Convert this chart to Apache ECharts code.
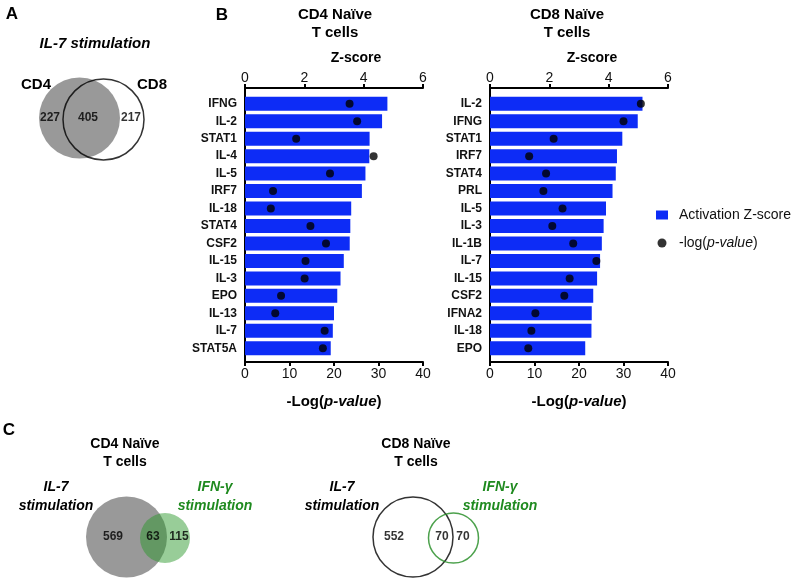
<!DOCTYPE html>
<html>
<head>
<meta charset="utf-8">
<script src="https://cdn.jsdelivr.net/npm/echarts@6/dist/echarts.min.js"></script>
<style>
  html, body { margin: 0; padding: 0; background: #fff; }
  #chart { width: 798px; height: 582px; }
</style>
</head>
<body>
<div id="chart"></div>
<script>
  // panel B data
  const cd4Genes = ['IFNG', 'IL-2', 'STAT1', 'IL-4', 'IL-5', 'IRF7', 'IL-18', 'STAT4', 'CSF2', 'IL-15', 'IL-3', 'EPO', 'IL-13', 'IL-7', 'STAT5A']
  const cd4Z = [4.80, 4.62, 4.20, 4.19, 4.06, 3.94, 3.58, 3.55, 3.53, 3.33, 3.22, 3.11, 3.00, 2.96, 2.89]
  const cd4P = [23.5, 25.2, 11.5, 28.9, 19.1, 6.3, 5.8, 14.7, 18.2, 13.6, 13.4, 8.1, 6.8, 17.9, 17.5]

  const cd8Genes = ['IL-2', 'IFNG', 'STAT1', 'IRF7', 'STAT4', 'PRL', 'IL-5', 'IL-3', 'IL-1B', 'IL-7', 'IL-15', 'CSF2', 'IFNA2', 'IL-18', 'EPO']
  const cd8Z = [5.14, 4.98, 4.46, 4.28, 4.24, 4.13, 3.91, 3.83, 3.77, 3.71, 3.61, 3.48, 3.43, 3.42, 3.21]
  const cd8P = [33.9, 30.0, 14.3, 8.8, 12.6, 12.0, 16.3, 14.0, 18.7, 23.9, 17.9, 16.7, 10.2, 9.3, 8.6]

  const zTicks = [0, 2, 4, 6]
  const pTicks = [0, 10, 20, 30, 40]

  // venn counts: [only first, overlap, only second]
  const vennACounts = [227, 405, 217]
  const vennC4Counts = [569, 63, 115]
  const vennC8Counts = [552, 70, 70]

  const BLUE = '#0d2cf6'
  const GREEN = '#1f8a1f'
  const FONT = 'Liberation Sans, Arial, sans-serif'

  let chart = echarts.init(document.getElementById('chart'))

  function frameAxes(gi, zPad){
    // visible frame axes of one bar panel
    return {
      x: [
        {
          gridIndex: gi, type: 'value', position: 'top', min: zTicks[0], max: zTicks[zTicks.length - 1], interval: 2,
          name: 'Z-score', nameLocation: 'middle', nameGap: 23,
          nameTextStyle: { fontFamily: FONT, fontWeight: 'bold', fontSize: 14, color: '#000', padding: [0, 0, 0, zPad] },
          axisLine: { onZero: false, lineStyle: { color: '#000', width: 2 } },
          axisTick: { length: 4, lineStyle: { color: '#000', width: 2 } },
          axisLabel: { fontFamily: FONT, fontSize: 14, color: '#111', margin: 3 },
          splitLine: { show: false }
        },
        {
          gridIndex: gi, type: 'value', position: 'bottom', min: pTicks[0], max: pTicks[pTicks.length - 1], interval: 10,
          name: '-Log({i|p-value})', nameLocation: 'middle', nameGap: 32,
          nameTextStyle: {
            fontFamily: FONT, fontWeight: 'bold', fontSize: 15, color: '#000',
            rich: { i: { fontFamily: FONT, fontWeight: 'bold', fontStyle: 'italic', fontSize: 15, color: '#000' } }
          },
          axisLine: { onZero: false, lineStyle: { color: '#000', width: 2 } },
          axisTick: { length: 4, lineStyle: { color: '#000', width: 2 } },
          axisLabel: { fontFamily: FONT, fontSize: 14, color: '#111', margin: 5 },
          splitLine: { show: false }
        }
      ],
      y: {
        gridIndex: gi, type: 'value', min: 0, max: 1,
        axisLine: { show: true, onZero: false, lineStyle: { color: '#000', width: 2 } },
        axisTick: { show: false }, axisLabel: { show: false }, splitLine: { show: false }
      }
    }
  }

  function seriesAxes(gi, genes){
    return {
      x: [
        { gridIndex: gi, type: 'value', min: 0, max: 6, show: false },
        { gridIndex: gi, type: 'value', min: 0, max: 40, show: false }
      ],
      y: {
        gridIndex: gi, type: 'category', data: genes, inverse: true,
        axisLine: { show: false },
        axisTick: { alignWithLabel: true, length: 5, lineStyle: { color: '#000', width: 1.5 } },
        axisLabel: { fontFamily: FONT, fontWeight: 'bold', fontSize: 12, color: '#111', margin: 8 },
        splitLine: { show: false }
      }
    }
  }

  let f4 = frameAxes(0, 44), s4 = seriesAxes(1, cd4Genes)
  let f8 = frameAxes(2, 26), s8 = seriesAxes(3, cd8Genes)

  function circle(x, y, d, fill, stroke){
    return {
      value: [x, y], symbolSize: d,
      itemStyle: { color: fill, borderColor: stroke || 'transparent', borderWidth: stroke ? 1.5 : 0 }
    }
  }
  function num(x, y, n){
    return { value: [x, y], label: { formatter: String(n) } }
  }

  const titleText = (t, x, y, extra) => ({
    type: 'text', x: x, y: y,
    style: Object.assign({ text: t, fontFamily: FONT, fontWeight: 'bold', fontSize: 15, fill: '#000', align: 'center', verticalAlign: 'middle', lineHeight: 18 }, extra || {})
  })

  chart.setOption({
    animation: false,
    grid: [
      { left: 245, width: 178, top: 88, height: 274 },
      { left: 245, width: 178, top: 95, height: 262 },
      { left: 490, width: 178, top: 88, height: 274 },
      { left: 490, width: 178, top: 95, height: 262 },
      { left: 0, top: 0, width: 798, height: 582 }
    ],
    xAxis: [
      f4.x[0], f4.x[1], s4.x[0], s4.x[1],
      f8.x[0], f8.x[1], s8.x[0], s8.x[1],
      { gridIndex: 4, type: 'value', min: 0, max: 798, show: false }
    ],
    yAxis: [
      f4.y, s4.y, f8.y, s8.y,
      { gridIndex: 4, type: 'value', min: 0, max: 582, inverse: true, show: false }
    ],
    legend: {
      orient: 'vertical', left: 651, top: 203, itemGap: 14,
      itemWidth: 12, itemHeight: 9, selectedMode: false,
      data: [{ name: 'Activation Z-score', icon: 'rect' }, { name: '-log(p-value)', icon: 'circle' }],
      formatter: name => name === '-log(p-value)' ? '-log({i|p-value})' : name,
      textStyle: {
        fontFamily: FONT, fontSize: 14, color: '#111', padding: [0, 0, 0, 6],
        rich: { i: { fontFamily: FONT, fontStyle: 'italic', fontSize: 14, color: '#111' } }
      }
    },
    series: [
      { name: 'Activation Z-score', type: 'bar', xAxisIndex: 2, yAxisIndex: 1, data: cd4Z, barWidth: 14, itemStyle: { color: BLUE }, silent: true },
      { name: '-log(p-value)', type: 'scatter', xAxisIndex: 3, yAxisIndex: 1, data: cd4P.map((v, i) => [v, i]), symbolSize: 8, itemStyle: { color: '#000' }, z: 3, silent: true },
      { name: 'Activation Z-score', type: 'bar', xAxisIndex: 6, yAxisIndex: 3, data: cd8Z, barWidth: 14, itemStyle: { color: BLUE }, silent: true },
      { name: '-log(p-value)', type: 'scatter', xAxisIndex: 7, yAxisIndex: 3, data: cd8P.map((v, i) => [v, i]), symbolSize: 8, itemStyle: { color: '#000' }, z: 3, silent: true },
      // venn circles
      {
        type: 'scatter', xAxisIndex: 8, yAxisIndex: 4, silent: true, z: 1,
        data: [
          circle(79.5, 118, 81, '#808080'),
          circle(103.5, 119.5, 81, 'rgba(0,0,0,0)', '#000'),
          circle(126.5, 537, 81, '#808080'),
          circle(165, 538, 50, 'rgba(40,150,40,0.6)'),
          circle(413, 537, 80, 'rgba(0,0,0,0)', '#000'),
          circle(453.5, 538, 50, 'rgba(0,0,0,0)', GREEN)
        ]
      },
      // venn counts
      {
        type: 'scatter', xAxisIndex: 8, yAxisIndex: 4, silent: true, z: 4, symbolSize: 0,
        label: { show: true, position: 'inside', fontFamily: FONT, fontWeight: 'bold', fontSize: 12, color: '#000' },
        data: [
          num(50, 118, vennACounts[0]), num(88, 118, vennACounts[1]), num(131, 118, vennACounts[2]),
          num(113, 537, vennC4Counts[0]), num(153, 537, vennC4Counts[1]), num(179, 537, vennC4Counts[2]),
          num(394, 537, vennC8Counts[0]), num(442, 537, vennC8Counts[1]), num(463, 537, vennC8Counts[2])
        ]
      }
    ],
    graphic: [
      titleText('A', 12, 14, { fontSize: 17 }),
      titleText('B', 222, 15, { fontSize: 17 }),
      titleText('C', 9, 430, { fontSize: 17 }),
      titleText('IL-7 stimulation', 95, 44, { fontStyle: 'italic' }),
      titleText('CD4', 36, 85),
      titleText('CD8', 152, 85),
      titleText('CD4 Naïve\nT cells', 335, 24),
      titleText('CD8 Naïve\nT cells', 567, 24),
      titleText('CD4 Naïve\nT cells', 125, 453, { fontSize: 14 }),
      titleText('CD8 Naïve\nT cells', 416, 453, { fontSize: 14 }),
      titleText('IL-7\nstimulation', 56, 497, { fontSize: 14, fontStyle: 'italic', lineHeight: 19 }),
      titleText('IFN-γ\nstimulation', 215, 497, { fontSize: 14, fontStyle: 'italic', lineHeight: 19, fill: GREEN }),
      titleText('IL-7\nstimulation', 342, 497, { fontSize: 14, fontStyle: 'italic', lineHeight: 19 }),
      titleText('IFN-γ\nstimulation', 500, 497, { fontSize: 14, fontStyle: 'italic', lineHeight: 19, fill: GREEN })
    ]
  })
</script>
</body>
</html>
